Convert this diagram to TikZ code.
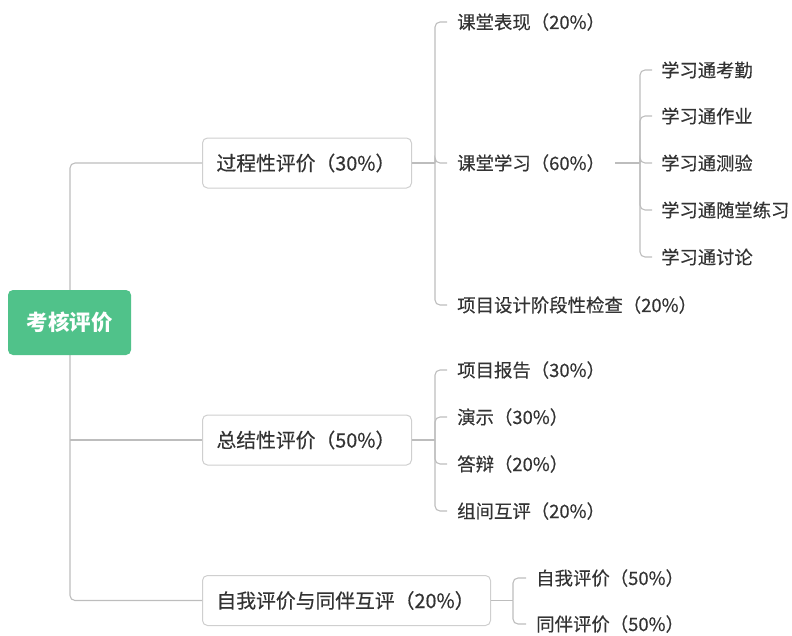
\documentclass[tikz,border=0pt]{standalone}
\usepackage{fontspec}
\setmainfont{Noto Sans CJK SC}
\newfontfamily\txtf{Noto Sans CJK SC}[FakeBold=0.35]
\begin{document}
\begin{tikzpicture}[x=1pt,y=-1pt,
  conn/.style={draw=linegray,line width=1.1pt,rounded corners=5pt},
  lvone/.style={draw=boxgray,line width=1pt,fill=white,rounded corners=5pt,
    minimum height=50pt,text=txtgray,font=\txtf\fontsize{19.8}{22}\selectfont,anchor=west,
    inner xsep=14pt,align=left},
  leaf/.style={anchor=west,inner xsep=10pt,inner ysep=0pt,text=txtgray,font=\txtf\fontsize{18.4}{20}\selectfont},
  leafb/.style={leaf,font=\txtf\fontsize{18.3}{20}\selectfont}]
\definecolor{linegray}{HTML}{BDBDBD}
\definecolor{boxgray}{HTML}{CFCFCF}
\definecolor{txtgray}{HTML}{333333}
\definecolor{rootgreen}{HTML}{50C28A}
\useasboundingbox (0,0) rectangle (792,635);
% coordinates
\coordinate (ja) at (435,163);
\coordinate (jb) at (640,163);
\coordinate (jc) at (435,440);
\coordinate (jd) at (513,600.5);
% level 1
\node[lvone,text width=181pt] (b1) at (202,163) {过程性评价（30\%）};
\node[lvone,text width=181pt] (b2) at (202,440) {总结性评价（50\%）};
\node[lvone,text width=260pt] (b3) at (202,600.5) {自我评价与同伴互评（20\%）};
% level 2
\node[leaf] (c1) at (447,22) {课堂表现（20\%）};
\node[leaf] (c2) at (447,163) {课堂学习（60\%）};
\node[leaf] (c3) at (447,305) {项目设计阶段性检查（20\%）};
\node[leaf] (d1) at (447,370) {项目报告（30\%）};
\node[leaf] (d2) at (447,417) {演示（30\%）};
\node[leaf] (d3) at (447,464) {答辩（20\%）};
\node[leaf] (d4) at (447,511) {组间互评（20\%）};
\node[leaf] (e1) at (526,578) {自我评价（50\%）};
\node[leaf] (e2) at (526,624) {同伴评价（50\%）};
% level 3
\node[leafb,inner xsep=9pt] (f1) at (652,70) {学习通考勤};
\node[leafb,inner xsep=9pt] (f2) at (652,116) {学习通作业};
\node[leafb,inner xsep=9pt] (f3) at (652,163) {学习通测验};
\node[leafb,inner xsep=9pt] (f4) at (652,210) {学习通随堂练习};
\node[leafb,inner xsep=9pt] (f5) at (652,257) {学习通讨论};
% connectors
\draw[conn] (70,300) |- (b1.west);
\draw[conn] (70,300) |- (b3.west);
\draw[conn,rounded corners=0pt] (70,440) -- (b2.west);
\node[fill=rootgreen,rounded corners=5pt,minimum width=123pt,minimum height=65pt,
  text=white,font=\fontsize{21.5}{24}\selectfont\bfseries] (root) at (69.5,322.5) {考核评价};
\draw[conn] (b1.east) -- (ja);
\foreach \n in {c1,c2,c3} \draw[conn] (ja) |- (\n.west);
\draw[conn] (c2.east) -- (jb);
\foreach \n in {f1,f2,f3,f4,f5} \draw[conn] (jb) |- (\n.west);
\draw[conn] (b2.east) -- (jc);
\foreach \n in {d1,d2,d3,d4} \draw[conn] (jc) |- (\n.west);
\draw[conn] (b3.east) -- (jd);
\foreach \n in {e1,e2} \draw[conn] (jd) |- (\n.west);
\end{tikzpicture}
\end{document}
